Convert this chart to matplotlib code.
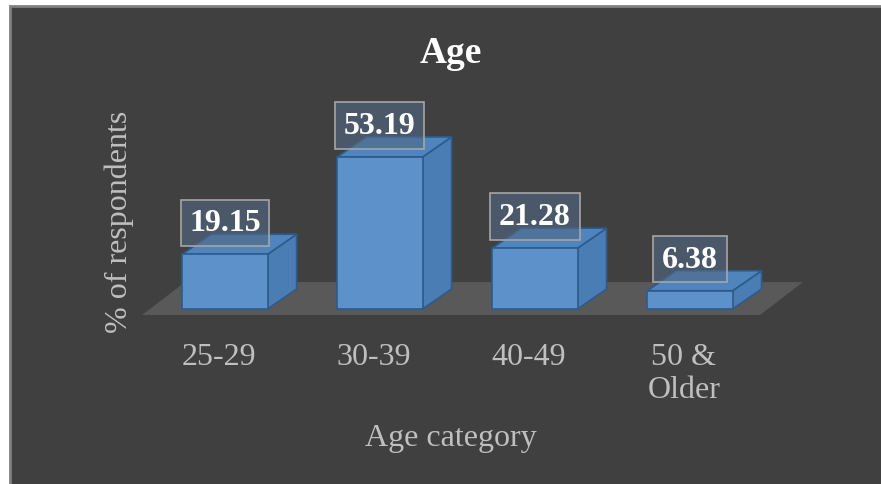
import matplotlib.pyplot as plt
import matplotlib.transforms as mtransforms
from matplotlib.patches import Polygon, Rectangle

# survey data
categories = ['25-29', '30-39', '40-49', '50 &\nOlder']
percent = [19.15, 53.19, 21.28, 6.38]
chart_title = 'Age'
x_title = 'Age category'
y_title = '% of respondents'

plt.rcParams['font.family'] = ['Liberation Serif', 'DejaVu Serif']

bg = '#404040'
floor_c = '#595959'
front_c = '#5c92c9'
side_c = '#4a7db4'
top_c = '#4f84bc'
edge_c = '#2d5b8c'
text_c = '#bfbfbf'

W, H = 881, 485
fig = plt.figure(figsize=(W / 100, H / 100), dpi=100)
fig.patch.set_facecolor('white')

# dark chart area with a thin light frame, kept behind the axes
fig.patches.append(Rectangle((10 / W, -0.1), 1.1, 1.1 - 7 / H,
                             transform=fig.transFigure, fc=bg,
                             ec='#808080', lw=2, zorder=-10))

ax = fig.add_axes([130 / W, 155 / H, 690 / W, 235 / H])
ax.set_xlim(-0.613, 3.839)
ax.set_ylim(-7.0, 75.2)
ax.patch.set_alpha(0)
for s in ax.spines.values():
    s.set_visible(False)

# 3d look: bar width and depth offsets in data units
w = 0.55
dx, dy = 0.187, 7.0

# floor
fx0, fx1, fy, fdx, fdy = -0.535, 3.452, -2.1, 0.277, 11.5
ax.add_patch(Polygon([(fx0, fy), (fx1, fy), (fx1 + fdx, fy + fdy),
                      (fx0 + fdx, fy + fdy)], closed=True,
                     fc=floor_c, ec='none', zorder=1))

for i, v in enumerate(percent):
    l, r = i - w / 2, i + w / 2
    front = Polygon([(l, 0), (r, 0), (r, v), (l, v)], closed=True,
                    fc=front_c, ec=edge_c, lw=1.2, zorder=3)
    side = Polygon([(r, 0), (r + dx, dy), (r + dx, v + dy), (r, v)],
                   closed=True, fc=side_c, ec=edge_c, lw=1.2, zorder=2)
    top = Polygon([(l, v), (r, v), (r + dx, v + dy), (l + dx, v + dy)],
                  closed=True, fc=top_c, ec=edge_c, lw=1.2, zorder=2)
    for p in (side, top, front):
        ax.add_patch(p)
    ax.annotate(f'{v:.2f}', (i, v), xytext=(0, 22.7),
                textcoords='offset points', ha='center', va='center',
                fontsize=23, fontweight='bold', color='white', zorder=5,
                bbox=dict(boxstyle='square,pad=0.27',
                          fc=(0.32, 0.41, 0.52, 0.6), ec='#a6a6a6', lw=1.2))

ax.set_xticks(range(len(categories)), categories)
ax.set_yticks([])
ax.tick_params(axis='x', length=0, pad=9.4, labelsize=23, labelcolor=text_c)
# category names sit a little left of the bar fronts
shift = mtransforms.ScaledTranslation(-6 / 100, 0, fig.dpi_scale_trans)
for lbl in ax.get_xticklabels():
    lbl.set_transform(lbl.get_transform() + shift)

ax.set_xlabel(x_title, fontsize=23, color=text_c)
ax.xaxis.set_label_coords(0.465, -0.40)
ax.set_ylabel(y_title, fontsize=23, color=text_c)
ax.yaxis.set_label_coords(0.006, 0.46)

fig.text(451 / W, 1 - 63 / H, chart_title, ha='center', va='baseline',
         fontsize=27, fontweight='bold', color='white')

fig.savefig('out.png', dpi=100, facecolor=fig.get_facecolor())
